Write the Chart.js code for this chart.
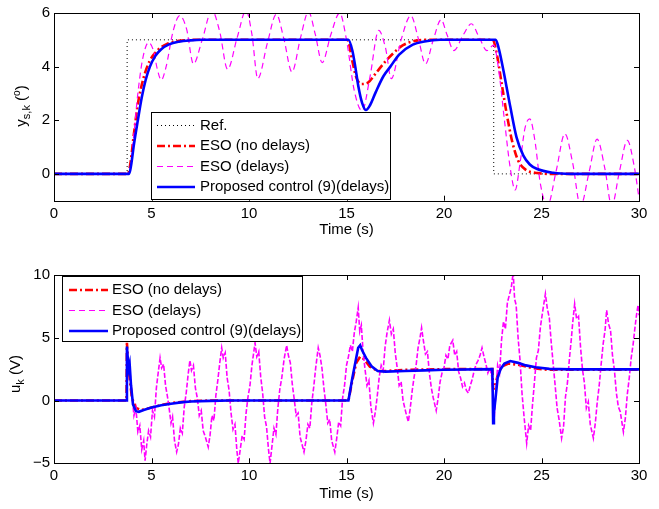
<!DOCTYPE html>
<html>
<head>
<meta charset="utf-8">
<script src="https://cdn.jsdelivr.net/npm/chart.js@4.4.0/dist/chart.umd.min.js"></script>
<style>
  body { margin: 0; background: #fff; }
  #wrap { position: relative; width: 659px; height: 509px; }
  canvas { position: absolute; left: 0; }
</style>
</head>
<body>
<div id="wrap">
  <canvas id="top" width="659" height="250" style="top:0"></canvas>
  <canvas id="bot" width="659" height="259" style="top:250px"></canvas>
</div>
<script>
// ticks
const xTicks = [0, 5, 10, 15, 20, 25, 30];
const yTicksTop = [0, 2, 4, 6];
const yTicksBot = [-5, 0, 5, 10];

// top plot: y_s,k [t, value]
const ySRef = [[0,0],[3.75,0],[3.75,5],[22.55,5],[22.55,0],[30,0]];
const ySEso = [[0,0],[3.78,0],[3.9,0.3],[4.1,1.5],[4.3,2.6],[4.6,3.6],[4.9,4.2],[5.3,4.6],[5.8,4.85],[6.4,4.96],[7.2,5],
  [15.05,5],[15.3,4.2],[15.5,3.6],[15.75,3.35],[16.1,3.4],[16.5,3.75],[17,4.2],[17.4,4.5],[17.9,4.8],[18.6,4.97],[19.3,5],
  [22.5,5],[22.7,4.5],[22.95,3.4],[23.2,2.3],[23.5,1.2],[23.8,0.5],[24.2,0.15],[24.8,0.03],[25.5,0],[30,0]];
const ySEsoDelay = [[0,0],[3.75,0],[3.9,0.2],[4.1,1.5],[4.3,3.0],[4.55,4.3],[4.85,4.9],[5.1,4.6],[5.3,3.9],[5.5,3.5],[5.75,4.0],
  [6.1,5.3],[6.45,5.9],[6.8,5.4],[7.15,4.1],[7.6,5.0],[8.1,6.1],[8.5,5.3],[8.9,3.9],[9.4,5.1],[9.85,6.1],[10.15,5.2],[10.45,3.55],
  [10.95,4.9],[11.4,5.95],[11.8,5.0],[12.2,3.8],[12.65,5.1],[13.05,6.05],[13.4,5.2],[13.75,4.15],[14.2,5.2],[14.65,6.0],[15,5.0],
  [15.4,3.1],[15.8,2.35],[16.2,3.6],[16.65,5.35],[17,4.7],[17.3,3.55],[17.8,5.0],[18.3,5.9],[18.7,5.0],[19.05,4.1],[19.45,5.0],
  [19.85,5.75],[20.15,5.2],[20.5,4.6],[21,5.2],[21.4,5.6],[21.8,5.1],[22.2,4.6],[22.55,4.8],[22.8,3.9],[23.1,2.0],[23.4,0.2],
  [23.65,-0.6],[23.9,0.4],[24.15,1.7],[24.4,2.05],[24.65,1.3],[24.95,-0.4],[25.3,-1.2],[25.75,0.1],[26.2,1.5],[26.6,0.4],
  [27,-1.2],[27.45,0.1],[27.85,1.3],[28.25,0.2],[28.6,-1.2],[29,0.1],[29.4,1.25],[29.75,0.3],[30,-0.9]];
const ySProp = [[0,0],[3.85,0],[3.95,0.3],[4.1,1.1],[4.3,2.0],[4.5,2.85],[4.7,3.5],[4.92,4.0],[5.2,4.4],[5.5,4.65],[5.9,4.83],
  [6.4,4.93],[7,4.98],[7.6,5],[15.1,5],[15.3,4.6],[15.45,4.0],[15.6,3.3],[15.8,2.65],[16,2.38],[16.2,2.55],[16.5,3.05],[16.9,3.65],
  [17.25,4.0],[17.7,4.45],[18.4,4.82],[19,4.94],[19.8,5],[22.65,5],[22.8,4.7],[23.05,3.85],[23.4,2.5],[23.72,1.36],[24.07,0.68],
  [24.4,0.35],[24.75,0.19],[25.6,0.04],[26.5,0],[30,0]];

// bottom plot: u_k [t, value]
const uEso = [[0,0],[3.72,0],[3.74,4.6],[3.8,3.0],[3.9,1.5],[4,0.2],[4.2,-0.6],[4.5,-0.75],[4.9,-0.6],[5.5,-0.35],[6,-0.2],[7,-0.05],
  [8,0],[15.1,0],[15.3,1.6],[15.5,3.0],[15.7,3.5],[15.9,3.3],[16.2,2.7],[16.6,2.35],[17,2.35],[18,2.45],[20,2.5],[22.48,2.5],
  [22.52,0.9],[22.6,1.0],[22.75,2.0],[22.95,2.7],[23.3,2.95],[23.8,2.85],[24.5,2.6],[25.3,2.45],[30,2.45]];
const uEsoDelay = [[0,0],[3.74,0],[3.78,3.5],[3.9,2.2],[4,0.5],[4.1,-1.2],[4.2,-0.6],[4.3,-2.5],[4.4,-2.0],[4.5,-3.9],[4.6,-3.2],
  [4.67,-4.8],[4.75,-3.6],[4.85,-2.4],[4.95,-2.9],[5.05,-0.8],[5.15,-1.3],[5.25,1.0],[5.35,2.3],[5.44,3.4],[5.52,2.6],[5.62,2.9],
  [5.72,1.2],[5.82,0.3],[5.92,-0.8],[6,-1.8],[6.08,-1.3],[6.18,-3.2],[6.29,-4.1],[6.38,-3.5],[6.48,-2.2],[6.58,-2.6],[6.68,-0.5],
  [6.78,0.6],[6.88,2.1],[6.97,3.2],[7.05,2.4],[7.15,2.8],[7.25,1.0],[7.35,0.2],[7.45,-1.2],[7.55,-0.8],[7.65,-2.4],[7.78,-3.0],
  [7.91,-3.7],[8,-2.8],[8.1,-1.2],[8.2,-1.6],[8.3,0.4],[8.4,1.6],[8.5,3.0],[8.6,4.2],[8.68,3.4],[8.78,3.8],[8.88,1.8],[8.98,0.8],
  [9.08,-1.0],[9.18,-2.3],[9.28,-1.9],[9.38,-4.0],[9.45,-5.0],[9.55,-3.9],[9.65,-2.8],[9.75,-3.1],[9.85,-1.0],[9.95,0.3],[10.05,1.2],
  [10.15,2.8],[10.31,4.6],[10.4,3.5],[10.5,3.9],[10.6,1.9],[10.7,0.6],[10.8,-1.3],[10.9,-2.1],[11,-3.9],[11.08,-5.0],[11.18,-3.6],
  [11.28,-2.2],[11.38,-2.7],[11.48,-0.6],[11.58,0.9],[11.68,1.8],[11.8,3.3],[11.93,4.4],[12.02,3.6],[12.12,3.0],[12.22,1.3],[12.32,0.1],
  [12.42,-1.2],[12.52,-1.0],[12.62,-2.9],[12.82,-4.1],[12.92,-3.2],[13.02,-1.9],[13.12,-2.2],[13.22,-0.2],[13.32,1.1],[13.42,2.6],
  [13.55,4.2],[13.64,3.6],[13.74,2.6],[13.84,1.0],[13.94,-0.3],[14.04,-1.8],[14.14,-1.5],[14.24,-3.2],[14.4,-4.1],[14.5,-3.0],
  [14.6,-1.7],[14.7,-2.0],[14.8,0.2],[14.9,1.2],[15,2.8],[15.1,3.5],[15.2,4.4],[15.3,3.9],[15.4,5.4],[15.5,6.3],[15.6,7.4],[15.68,5.5],
  [15.76,6.0],[15.85,3.9],[15.95,2.5],[16.05,1.2],[16.15,1.6],[16.25,-0.5],[16.38,-1.8],[16.48,-0.9],[16.58,0.4],[16.68,1.9],[16.78,2.8],
  [16.88,2.4],[16.98,4.3],[17.08,5.4],[17.2,6.4],[17.3,5.3],[17.4,5.7],[17.5,3.8],[17.6,2.6],[17.7,1.2],[17.8,1.5],[17.9,0.0],
  [18.05,-1.0],[18.17,-1.7],[18.27,-0.6],[18.37,0.8],[18.47,1.9],[18.57,2.8],[18.67,4.2],[18.77,5.0],[18.85,5.8],[18.95,4.7],
  [19.05,3.7],[19.15,3.9],[19.25,2.2],[19.35,1.0],[19.45,0.2],[19.6,-0.8],[19.7,0.2],[19.8,1.5],[19.9,2.2],[20,2.6],[20.1,3.6],
  [20.2,3.3],[20.3,4.4],[20.45,4.8],[20.55,3.6],[20.65,3.9],[20.75,2.3],[20.85,1.8],[20.95,1.1],[21.05,1.4],[21.15,0.8],[21.25,0.6],
  [21.35,1.2],[21.45,1.7],[21.55,2.4],[21.65,2.9],[21.75,3.2],[21.85,3.6],[21.95,4.2],[22.05,3.5],[22.15,2.9],[22.25,2.2],[22.35,2.6],
  [22.45,1.9],[22.52,0.6],[22.58,-1.3],[22.65,0.4],[22.75,2.8],[22.85,2.2],[22.95,4.8],[23.05,6.3],[23.15,5.7],[23.25,7.8],[23.35,8.4],
  [23.45,9.0],[23.55,10.2],[23.62,8.1],[23.7,7.6],[23.8,5.0],[23.9,3.2],[24,0.6],[24.1,-1.2],[24.24,-3.4],[24.34,-2.0],[24.44,-2.4],
  [24.54,-0.3],[24.64,1.5],[24.74,3.4],[24.84,4.0],[24.94,5.8],[25.05,7.0],[25.2,8.5],[25.3,7.3],[25.4,6.6],[25.5,4.6],[25.6,2.9],
  [25.7,1.2],[25.8,-0.6],[25.9,-1.5],[26.03,-3.0],[26.13,-2.1],[26.23,0.3],[26.33,1.4],[26.43,3.3],[26.53,4.9],[26.6,6.2],[26.7,7.7],
  [26.8,6.5],[26.9,6.7],[27,4.3],[27.1,2.5],[27.2,1.4],[27.3,-0.6],[27.4,-0.1],[27.5,-1.9],[27.66,-3.0],[27.76,-1.8],[27.86,-0.1],
  [27.96,1.2],[28.06,2.9],[28.16,4.5],[28.26,5.6],[28.34,7.2],[28.44,6.1],[28.54,5.6],[28.64,3.6],[28.74,2.4],[28.84,0.6],[28.94,-0.5],
  [29.04,-0.9],[29.2,-2.5],[29.3,-1.4],[29.4,0.5],[29.5,1.8],[29.6,3.4],[29.7,4.5],[29.8,5.9],[29.88,6.9],[29.95,7.6],[30,6.8]];
const uProp = [[0,0],[3.72,0],[3.74,4.3],[3.8,3.0],[3.84,2.6],[3.88,2.9],[3.95,1.2],[4.05,-0.3],[4.2,-0.85],[4.35,-0.9],[4.6,-0.75],
  [5,-0.55],[5.5,-0.38],[6,-0.25],[6.5,-0.15],[7,-0.08],[8,-0.03],[9,0],[15.1,0],[15.3,1.8],[15.5,3.4],[15.6,4.2],[15.7,4.4],[15.8,4.0],
  [16,3.4],[16.3,2.7],[16.6,2.35],[17,2.3],[18,2.35],[19,2.4],[20,2.45],[22.48,2.5],[22.52,-1.8],[22.56,-1.0],[22.65,0.3],[22.75,1.8],
  [22.9,2.5],[23.1,2.95],[23.4,3.15],[23.8,3.0],[24.2,2.8],[24.7,2.65],[25.4,2.52],[26.5,2.48],[30,2.48]];

const FONT = '"Liberation Sans", Arial, Helvetica, sans-serif';
const FS = 15;
const pts = a => a.map(p => ({ x: p[0], y: p[1] }));
const fmt = v => (v < 0 ? '\u2212' + Math.abs(v) : String(v));

const styles = {
  ref:   { color: '#000000', width: 1, dash: [1, 3] },
  eso:   { color: '#ff0000', width: 2.6, dash: [8, 3, 2, 3] },
  esoD:  { color: '#ff00ff', width: 1.2, dash: [6, 4] },
  esoDu: { color: '#ff00ff', width: 1.6, dash: [5, 2] },
  prop:  { color: '#0000ff', width: 2.6, dash: [] }
};

function ds(data, st, smooth) {
  return {
    data: pts(data), borderColor: st.color, borderWidth: st.width, borderDash: st.dash,
    pointRadius: 0, fill: false, tension: 0,
    cubicInterpolationMode: smooth ? 'monotone' : 'default'
  };
}

function drawYTitle(ctx, bx, cy, parts) {
  ctx.save();
  ctx.translate(bx, cy);
  ctx.rotate(-Math.PI / 2);
  ctx.fillStyle = '#000';
  ctx.textBaseline = 'alphabetic';
  ctx.textAlign = 'left';
  let w = 0;
  parts.forEach(p => { ctx.font = p.size + 'px ' + FONT; w += ctx.measureText(p.t).width; });
  let x = -w / 2;
  parts.forEach(p => {
    ctx.font = p.size + 'px ' + FONT;
    ctx.fillText(p.t, x, p.dy);
    x += ctx.measureText(p.t).width;
  });
  ctx.restore();
}

const framePlugin = {
  id: 'frame',
  afterDraw(chart, args, o) {
    const ctx = chart.ctx, a = chart.chartArea;
    const xs = chart.scales.x, ys = chart.scales.y;
    ctx.save();
    ctx.strokeStyle = '#000';
    ctx.lineWidth = 1;
    ctx.setLineDash([]);
    ctx.beginPath();
    const L = 5;
    xTicks.forEach(v => {
      const px = Math.round(xs.getPixelForValue(v)) + 0.5;
      ctx.moveTo(px, a.bottom); ctx.lineTo(px, a.bottom - L);
      ctx.moveTo(px, a.top); ctx.lineTo(px, a.top + L);
    });
    o.yTicks.forEach(v => {
      const py = Math.round(ys.getPixelForValue(v)) + 0.5;
      ctx.moveTo(a.left, py); ctx.lineTo(a.left + L, py);
      ctx.moveTo(a.right, py); ctx.lineTo(a.right - L, py);
    });
    ctx.stroke();
    ctx.strokeRect(Math.round(a.left) + 0.5, Math.round(a.top) + 0.5, Math.round(a.right - a.left), Math.round(a.bottom - a.top));

    // legend
    const lg = o.legend;
    ctx.fillStyle = '#fff';
    ctx.fillRect(lg.x, lg.y, lg.w, lg.h);
    ctx.strokeRect(lg.x + 0.5, lg.y + 0.5, lg.w, lg.h);
    ctx.font = FS + 'px ' + FONT;
    ctx.textBaseline = 'middle';
    ctx.textAlign = 'left';
    lg.items.forEach((it, i) => {
      const y = lg.rowY[i];
      const st = styles[it.style];
      ctx.strokeStyle = st.color;
      ctx.lineWidth = st.width;
      ctx.setLineDash(st.dash);
      ctx.beginPath();
      ctx.moveTo(lg.x1, y); ctx.lineTo(lg.x2, y);
      ctx.stroke();
      ctx.fillStyle = '#000';
      ctx.fillText(it.label, lg.tx, y);
    });
    ctx.setLineDash([]);

    // axis titles
    ctx.font = FS + 'px ' + FONT;
    ctx.textAlign = 'center';
    ctx.textBaseline = 'middle';
    ctx.fillStyle = '#000';
    ctx.fillText('Time (s)', (a.left + a.right) / 2, o.xTitleY);
    drawYTitle(ctx, o.yTitleX, o.yTitleY, o.yTitle);
    ctx.restore();
  }
};

function makeChart(id, datasets, yMin, yMax, yTicks, padTop, xAxisH, frame) {
  return new Chart(document.getElementById(id), {
    type: 'line',
    data: { datasets },
    options: {
      responsive: false, animation: false, devicePixelRatio: 1,
      layout: { padding: { left: 0, right: 20, top: padTop, bottom: 0 } },
      plugins: { legend: { display: false }, tooltip: { enabled: false }, frame },
      scales: {
        x: {
          type: 'linear', min: 0, max: 30,
          afterBuildTicks: s => { s.ticks = xTicks.map(v => ({ value: v })); },
          afterFit: s => { s.height = xAxisH; },
          grid: { display: false, drawTicks: false }, border: { display: false },
          ticks: { font: { family: FONT, size: FS }, color: '#000', padding: 4, maxRotation: 0, autoSkip: false, callback: fmt }
        },
        y: {
          type: 'linear', min: yMin, max: yMax,
          afterBuildTicks: s => { s.ticks = yTicks.map(v => ({ value: v })); },
          afterFit: s => { s.width = 54; },
          grid: { display: false, drawTicks: false }, border: { display: false },
          ticks: { font: { family: FONT, size: FS }, color: '#000', padding: 4, autoSkip: false, callback: fmt }
        }
      }
    },
    plugins: [framePlugin]
  });
}

makeChart('top', [
  ds(ySProp, styles.prop, true),
  ds(ySEsoDelay, styles.esoD, true),
  ds(ySEso, styles.eso, true),
  ds(ySRef, styles.ref, false)
], -1, 6, yTicksTop, 12, 49.3, {
  yTicks: yTicksTop,
  xTitleY: 230,
  yTitleX: 26,
  yTitleY: 106,
  yTitle: [{ t: 'y', size: 15, dy: 0 }, { t: 's,k', size: 11, dy: 4 }, { t: ' (', size: 15, dy: 0 }, { t: 'o', size: 10, dy: -6 }, { t: ')', size: 15, dy: 0 }],
  legend: {
    x: 151, y: 112, w: 239, h: 87, x1: 157, x2: 195, tx: 200,
    rowY: [125.5, 146, 166.5, 187],
    items: [
      { label: 'Ref.', style: 'ref' },
      { label: 'ESO (no delays)', style: 'eso' },
      { label: 'ESO (delays)', style: 'esoD' },
      { label: 'Proposed control (9)(delays)', style: 'prop' }
    ]
  }
});

makeChart('bot', [
  ds(uProp, styles.prop, false),
  ds(uEsoDelay, styles.esoDu, false),
  ds(uEso, styles.eso, false)
], -5, 10, yTicksBot, 25, 45.7, {
  yTicks: yTicksBot,
  xTitleY: 244,
  yTitleX: 20,
  yTitleY: 124,
  yTitle: [{ t: 'u', size: 15, dy: 0 }, { t: 'k', size: 11, dy: 4 }, { t: ' (V)', size: 15, dy: 0 }],
  legend: {
    x: 62, y: 26, w: 240, h: 65, x1: 69, x2: 108, tx: 112,
    rowY: [40, 60.5, 81],
    items: [
      { label: 'ESO (no delays)', style: 'eso' },
      { label: 'ESO (delays)', style: 'esoD' },
      { label: 'Proposed control (9)(delays)', style: 'prop' }
    ]
  }
});
</script>
</body>
</html>
